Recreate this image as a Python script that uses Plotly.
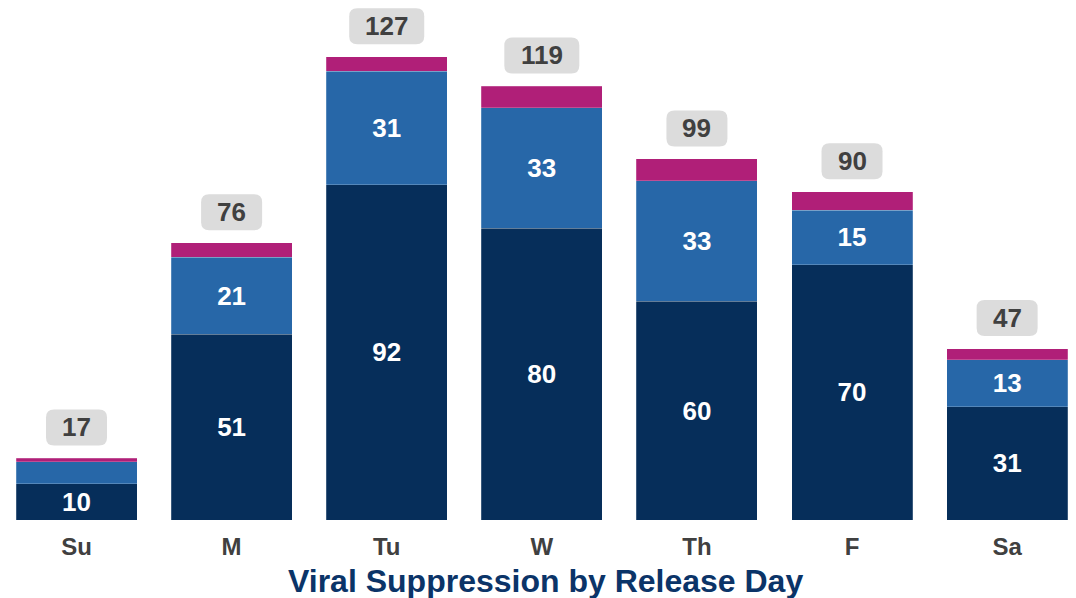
import plotly.graph_objects as go

days = ["Su", "M", "Tu", "W", "Th", "F", "Sa"]
seg_bottom = [10, 51, 92, 80, 60, 70, 31]
seg_middle = [6, 21, 31, 33, 33, 15, 13]
seg_top = [1, 4, 4, 6, 6, 5, 3]
totals = [17, 76, 127, 119, 99, 90, 47]
title_text = "Viral Suppression by Release Day"

navy = "#062E5A"
blue = "#2767A8"
magenta = "#B01F78"
FONT = "Liberation Sans, Arial"


def labels(vals):
    return [str(v) if v >= 10 else "" for v in vals]


fig = go.Figure()
for vals, col, show in [(seg_bottom, navy, True), (seg_middle, blue, True), (seg_top, magenta, False)]:
    fig.add_trace(go.Bar(
        x=days, y=vals,
        marker=dict(color=col, line=dict(width=0.6, color="rgba(255,255,255,0.35)")),
        text=labels(vals) if show else None,
        textposition="inside" if show else "none",
        insidetextanchor="middle",
        constraintext="none",
        textfont=dict(family=FONT, size=26, color="white", weight="bold"),
        hoverinfo="skip",
        width=0.78,
    ))


def rr_offset(w, h, r, dy):
    x0, x1 = -w / 2, w / 2
    y0, y1 = dy - h / 2, dy + h / 2
    return (f"M{x0+r},{y0} L{x1-r},{y0} Q{x1},{y0} {x1},{y0+r} "
            f"L{x1},{y1-r} Q{x1},{y1} {x1-r},{y1} L{x0+r},{y1} "
            f"Q{x0},{y1} {x0},{y1-r} L{x0},{y0+r} Q{x0},{y0} {x0+r},{y0} Z")


offset_px = 30.5
shapes = []
annotations = []
for d, t in zip(days, totals):
    w = 61 if len(str(t)) < 3 else 75
    shapes.append(dict(
        type="path", xref="x", yref="y", xsizemode="pixel", ysizemode="pixel",
        xanchor=d, yanchor=t, path=rr_offset(w, 36, 8, offset_px),
        fillcolor="#DCDCDC", line=dict(width=0), layer="below",
    ))
    annotations.append(dict(
        x=d, y=t, xref="x", yref="y", text=str(t), showarrow=False,
        yshift=offset_px + 0.5,
        font=dict(family=FONT, size=26, color="#404040", weight="bold"),
    ))

annotations.append(dict(
    x=0.5, y=0, xref="paper", yref="paper", text=title_text, showarrow=False,
    yanchor="middle", yshift=-61, xshift=3,
    font=dict(family=FONT, size=32, color="#0B3468", weight="bold"),
))

fig.update_layout(
    barmode="stack",
    width=1068, height=590,
    margin=dict(l=0, r=0, t=0, b=78),
    paper_bgcolor="white", plot_bgcolor="white",
    showlegend=False,
    xaxis=dict(range=[-0.4417, 6.444], showgrid=False, zeroline=False, showline=False,
               tickfont=dict(family=FONT, size=24, color="#404040", weight="bold"),
               ticks="", ticklabelstandoff=10),
    yaxis=dict(range=[0, 140.4], visible=False),
    annotations=annotations,
    shapes=shapes,
)

fig.write_html("out.html")
